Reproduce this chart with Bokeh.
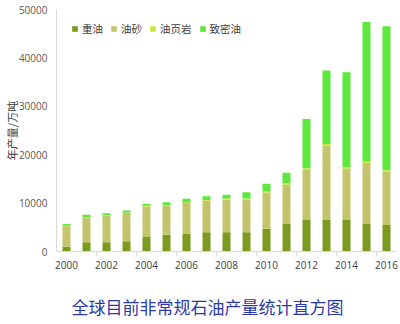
from bokeh.plotting import figure
from bokeh.models import Legend, LegendItem, FixedTicker, Title, ColumnDataSource, Range1d
from bokeh.embed import file_html
from bokeh.resources import INLINE

years = list(range(2000, 2017))
heavy = [1000, 1900, 1900, 2100, 3000, 3450, 3600, 4000, 4000, 4000, 4700, 5700, 6500, 6500, 6600, 5700, 5450]
sand = [4200, 5100, 5500, 5850, 6300, 6000, 6400, 6500, 6750, 6750, 7500, 8100, 10400, 15400, 10500, 12600, 11050]
shale = [100, 100, 100, 100, 150, 150, 150, 150, 200, 200, 200, 250, 300, 300, 300, 300, 300]
tight = [400, 480, 400, 420, 400, 600, 750, 750, 750, 1300, 1600, 2200, 10200, 15200, 19650, 28800, 29750]
series = ["重油", "油砂", "油页岩", "致密油"]
colors = ["#7b9a1e", "#c4c46c", "#c9e63c", "#5de83c"]
yticks = [0, 10000, 20000, 30000, 40000, 50000]
xticks = list(range(2000, 2017, 2))
title = "全球目前非常规石油产量统计直方图"

src = ColumnDataSource(dict(year=years, heavy=heavy, sand=sand, shale=shale, tight=tight))

p = figure(width=400, height=324, output_backend="svg", toolbar_location=None,
           x_range=Range1d(1999.5, 2016.5), y_range=Range1d(0, 50000),
           min_border_left=40, min_border_right=4, min_border_top=9, min_border_bottom=73)
p.outline_line_color = None
p.background_fill_color = "white"
p.grid.visible = False

rs = p.vbar_stack(["heavy", "sand", "shale", "tight"], x="year", width=0.4, source=src,
                  color=colors, line_color=None)

legend = Legend(items=[LegendItem(label=s, renderers=[r]) for s, r in zip(series, rs)],
                orientation="horizontal", location=(15, 215), padding=0, margin=0,
                spacing=7, glyph_width=7, glyph_height=7, label_standoff=4,
                label_height=14, label_text_font="Noto Sans CJK SC",
                label_text_font_size="10.5px", label_text_color="#404040",
                border_line_color=None, background_fill_alpha=0)
p.add_layout(legend)

p.yaxis.ticker = FixedTicker(ticks=yticks)
p.yaxis.axis_line_color = "#d9d9d9"
p.yaxis.major_tick_out = 0
p.yaxis.major_tick_in = 0
p.yaxis.minor_tick_out = 0
p.yaxis.minor_tick_in = 0
p.yaxis.major_label_text_font = "Open Sans"
p.yaxis.major_label_text_font_size = "10px"
p.yaxis.major_label_text_color = "#595959"
p.yaxis.major_label_standoff = 9
p.yaxis.axis_label = "年产量/万吨"
p.yaxis.axis_label_text_font = "Noto Sans CJK SC"
p.yaxis.axis_label_text_font_style = "normal"
p.yaxis.axis_label_text_font_size = "11px"
p.yaxis.axis_label_text_color = "#404040"
p.yaxis.axis_label_standoff = -4

p.xaxis.ticker = FixedTicker(ticks=xticks, minor_ticks=[y + 1.5 for y in xticks[:-1]])
p.xaxis.axis_line_color = "#d9d9d9"
p.xaxis.major_tick_out = 0
p.xaxis.major_tick_in = 0
p.xaxis.minor_tick_out = 4
p.xaxis.minor_tick_in = 0
p.xaxis.minor_tick_line_color = "#d9d9d9"
p.xaxis.major_label_text_font = "Open Sans"
p.xaxis.major_label_text_font_size = "10px"
p.xaxis.major_label_text_color = "#404040"
p.xaxis.major_label_standoff = 5
p.xaxis.axis_label = " "
p.xaxis.axis_label_text_font_size = "12px"
p.xaxis.axis_label_standoff = 0

t = Title(text=title, align="left", offset=15, vertical_align="bottom",
          text_font="Noto Sans CJK SC", text_font_size="17px", text_font_style="normal",
          text_color="#2b3aa8", standoff=6)
p.add_layout(t, "below")

open("out.html", "w").write(file_html(p, INLINE))
